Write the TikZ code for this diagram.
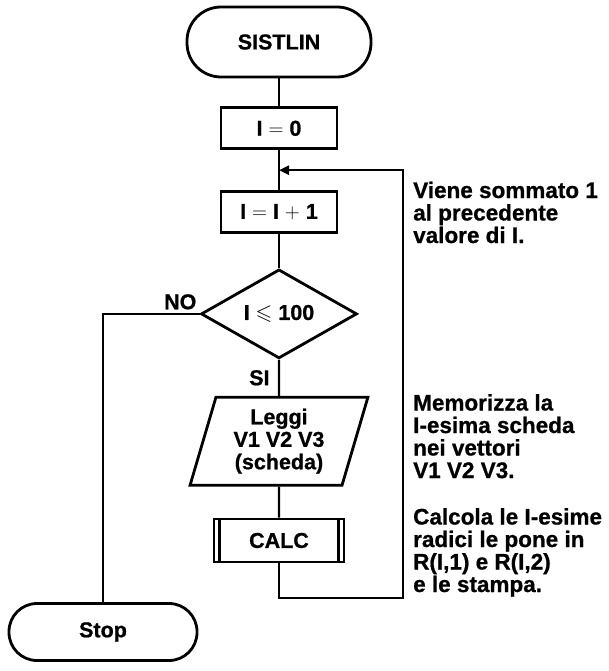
\documentclass[tikz,border=0pt]{standalone}
\usepackage{amsmath,amssymb}
\usepackage{fontspec}
\setsansfont{Liberation Sans}[BoldFeatures={FakeBold=0.8}]
\usetikzlibrary{arrows.meta,positioning,calc,shapes.geometric}

\begin{document}
\begin{tikzpicture}[
  x=1pt,y=1pt,
  every node/.style={font=\sffamily\bfseries\fontsize{21.5}{22.5}\selectfont,align=center},
  shapeline/.style={draw,line width=2.8pt},
  term/.style={shapeline,rounded corners=34pt,minimum width=184pt,minimum height=70pt},
  box/.style={shapeline,minimum width=116pt,minimum height=41pt},
  test/.style={shapeline,diamond,inner sep=0pt,minimum width=156pt,minimum height=89pt},
  io/.style={shapeline,trapezium,trapezium left angle=74,trapezium right angle=106,
    trapezium stretches,minimum width=178pt,minimum height=88pt,inner sep=0pt},
  note/.style={font=\sffamily\bfseries\fontsize{22.5}{22.5}\selectfont,align=left,inner sep=0pt,anchor=base west},
  line/.style={line width=2.2pt},
  arr/.style={line width=2.2pt,-{Triangle[length=10pt,width=9pt]}}
]
\useasboundingbox (0,0) rectangle (608,-671);
\node[term] (start) at (279,-42) {SISTLIN};
\node[box,below=28pt of start] (init) {I $=$ 0};
\node[box,below=40pt of init] (incr) {I $=$ I $+$ 1};
\node[test,below=34pt of incr] (cond) {I $\leqslant$ 100};
\node[io,below=36pt of cond] (read) {Leggi\\V1 V2 V3\\(scheda)};
\node[box,minimum width=130pt,minimum height=43pt,below=31pt of read] (calc) {CALC};
\node[term,rounded corners=28pt,minimum width=188pt,minimum height=57pt] (stop) at (103,-632) {Stop};
% bordi interni del sottoprogramma
\draw[shapeline] ([xshift=7pt]calc.north west) -- ([xshift=7pt]calc.south west);
\draw[shapeline] ([xshift=-7pt]calc.north east) -- ([xshift=-7pt]calc.south east);
% collegamenti
\coordinate (join) at ($(init.south)!0.5!(incr.north)$);
\coordinate (back) at (403,-598);
\draw[line] (start) -- (init);
\draw[line] (init) -- (incr);
\draw[line] (incr) -- (cond);
\draw[line] (cond) -- node[left=5pt]{SI} (read);
\draw[line] (read) -- (calc);
\draw[line] (cond.west) -| node[pos=0.1,above]{NO} (stop.north);
\draw[arr] (calc.south) |- (back) |- (join);
% commenti a destra (ancorati all'ultima riga)
\node[note] (n1) at (413,-243) {Viene sommato 1\\al precedente\\valore di I.};
\node[note] (n2) at (413,-478) {Memorizza la\\I-esima scheda\\nei vettori\\V1 V2 V3.};
\node[note] (n3) at (413,-592) {Calcola le I-esime\\radici le pone in\\R(I,1) e R(I,2)\\e le stampa.};
\end{tikzpicture}
\end{document}
